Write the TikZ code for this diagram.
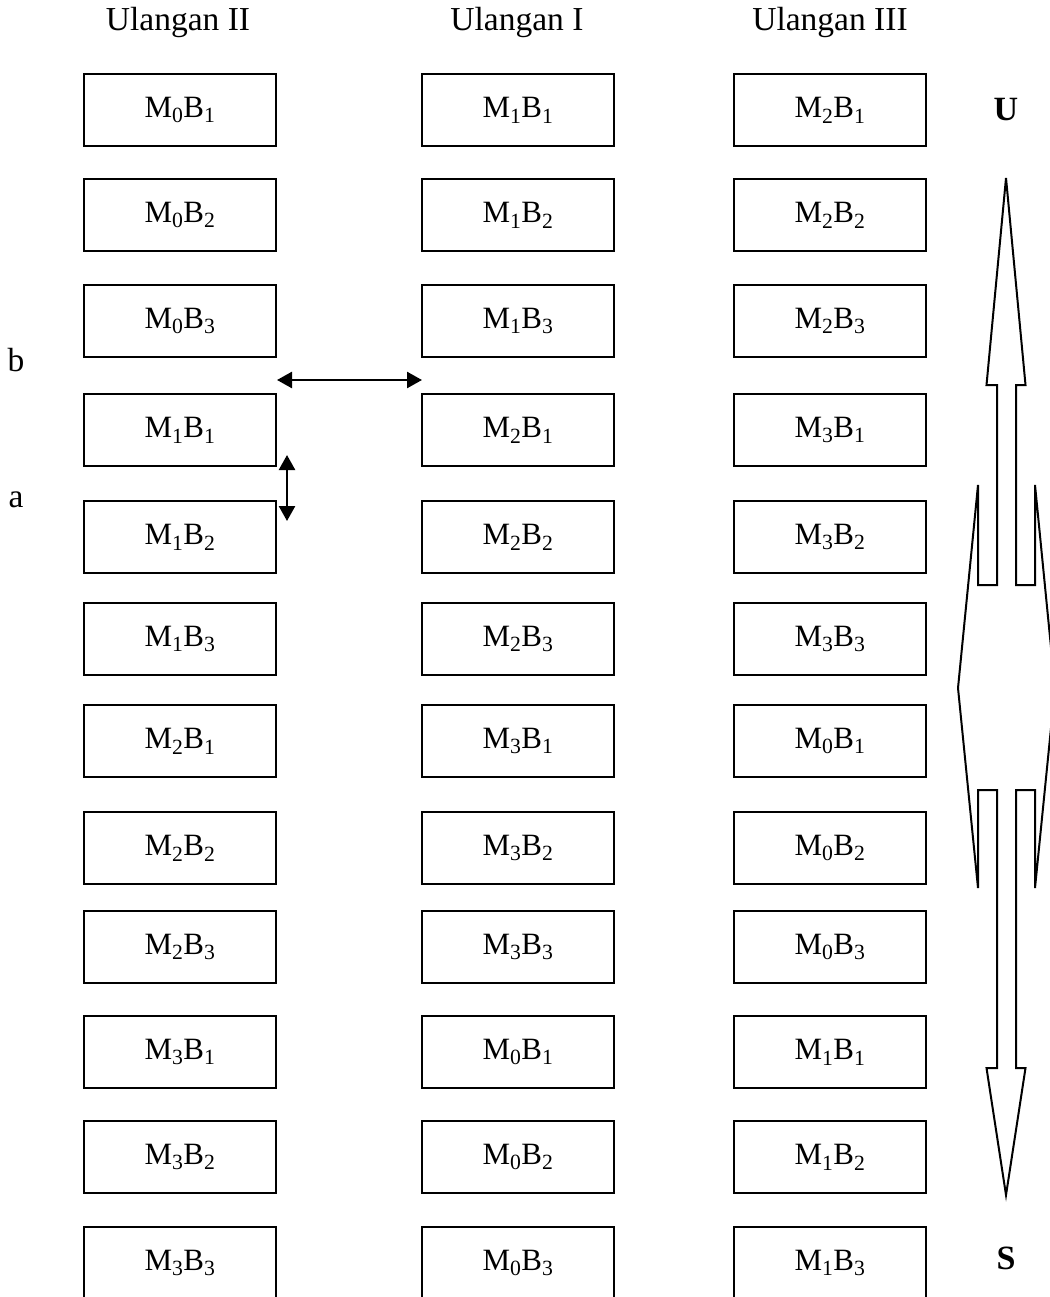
\documentclass[tikz,border=0pt]{standalone}
\usepackage{fontspec}
\setmainfont{Liberation Serif}
\usetikzlibrary{arrows.meta}

\newcommand{\MB}[2]{M\textsubscript{#1}B\textsubscript{#2}}

\tikzset{
  petak/.style={draw, line width=2pt, minimum width=192pt, minimum height=72pt,
    inner sep=0pt, font=\fontsize{31}{36}\selectfont},
  judul/.style={font=\fontsize{33.5}{40}\selectfont},
  arah/.style={font=\fontsize{34}{40}\selectfont\bfseries},
  panah/.style={line width=2.5pt,
    {Triangle[length=15pt,width=16pt]}-{Triangle[length=15pt,width=16pt]}},
}

\begin{document}
\begin{tikzpicture}[x=1pt, y=-1pt]
  \useasboundingbox (0,0) rectangle (1049,1297);
  % column headings
  \node[judul] (h2) at (178,22) {Ulangan II};
  \node[judul] (h1) at (517,22) {Ulangan I};
  \node[judul] (h3) at (830,22) {Ulangan III};
  % plots: M index shifts by one per column, B runs 1..3
  \foreach \y [count=\r from 1] in {110,215,321,430,537,639,741,848,947,1052,1157,1263} {
    \pgfmathtruncatemacro{\bb}{mod(\r-1,3)+1}
    \pgfmathtruncatemacro{\ma}{div(\r-1,3)}
    \pgfmathtruncatemacro{\mb}{mod(div(\r-1,3)+1,4)}
    \pgfmathtruncatemacro{\mc}{mod(div(\r-1,3)+2,4)}
    \node[petak] (ul2-\r) at (180,\y) {\MB{\ma}{\bb}};
    \node[petak] (ul1-\r) at (518,\y) {\MB{\mb}{\bb}};
    \node[petak] (ul3-\r) at (830,\y) {\MB{\mc}{\bb}};
  }
  % spacing marks
  \node[judul] (lb) at (16,360) {b};
  \node[judul] (la) at (16,500) {a};
  \coordinate (bkiri) at (277,380);
  \coordinate (bkanan) at (422,380);
  \draw[panah] (bkiri) -- (bkanan);
  \coordinate (aatas) at (287,455);
  \coordinate (abawah) at (287,521);
  \draw[panah] (aatas) -- (abawah);
  % north-south arrow
  \node[arah] (utara) at (1006,110) {U};
  \node[arah] (selatan) at (1006,1258) {S};
  \draw[line width=2pt, line join=miter]
    (1006,178) -- (1025.5,385) -- (1016,385) -- (1016,585) -- (1035,585)
    -- (1035,485) -- (1055,688) -- (1035,888) -- (1035,790) -- (1016,790)
    -- (1016,1068) -- (1025.5,1068) -- (1006,1195) -- (986.5,1068)
    -- (997,1068) -- (997,790) -- (978,790) -- (978,888) -- (958,688)
    -- (978,485) -- (978,585) -- (997,585) -- (997,385) -- (986.5,385) -- cycle;
\end{tikzpicture}
\end{document}
